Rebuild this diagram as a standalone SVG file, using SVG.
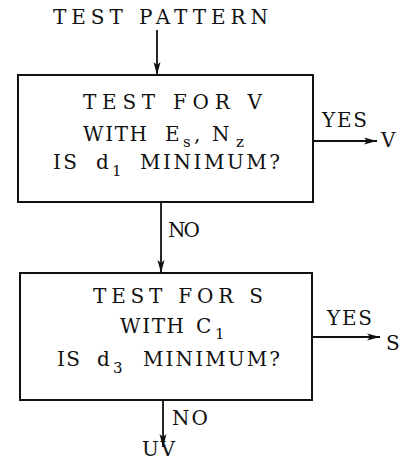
<svg xmlns="http://www.w3.org/2000/svg" width="405" height="460" viewBox="0 0 405 460">
<style>
text{font-family:"DejaVu Serif","Liberation Serif",serif;font-size:20px;fill:#111}
.sub{font-size:15px}
.box{fill:#fff;stroke:#111;stroke-width:2}
.ln{stroke:#111;stroke-width:1.8;fill:none}
</style>
<defs>
<marker id="ah" markerWidth="14" markerHeight="8" refX="13" refY="4" orient="auto" markerUnits="userSpaceOnUse">
<path d="M0,0.5 L13,4 L0,7.5 L3,4 Z" fill="#111"/>
</marker>
</defs>
<rect width="405" height="460" fill="#fff"/>
<g id="input">
<text x="53" y="24" textLength="215" lengthAdjust="spacing">TEST PATTERN</text>
</g>
<g id="box1">
<rect class="box" x="18" y="75" width="295" height="127"/>
<text x="83" y="109" textLength="179" lengthAdjust="spacing">TEST FOR V</text>
<text x="83" y="141" textLength="64" lengthAdjust="spacing">WITH</text>
<text x="165" y="141">E</text>
<text class="sub" x="183" y="147">s</text>
<text x="194" y="141">,</text>
<text x="212" y="141">N</text>
<text class="sub" x="236" y="147">z</text>
<text x="53" y="169" textLength="24" lengthAdjust="spacing">IS</text>
<text x="96" y="169">d</text>
<text class="sub" x="112" y="176">1</text>
<text x="140" y="169" textLength="140" lengthAdjust="spacing">MINIMUM?</text>
</g>
<g id="box2">
<rect class="box" x="20" y="273" width="292" height="127"/>
<text x="93" y="303" textLength="170" lengthAdjust="spacing">TEST FOR S</text>
<text x="120" y="333" textLength="64" lengthAdjust="spacing">WITH</text>
<text x="196" y="333">C</text>
<text class="sub" x="215" y="339">1</text>
<text x="57" y="366" textLength="23" lengthAdjust="spacing">IS</text>
<text x="97" y="366">d</text>
<text class="sub" x="113" y="373">3</text>
<text x="143" y="366" textLength="137" lengthAdjust="spacing">MINIMUM?</text>
</g>
<g id="outV">
<text x="381" y="147">V</text>
</g>
<g id="outS">
<text x="386" y="350">S</text>
</g>
<g id="outUV">
<text x="142" y="456" textLength="33" lengthAdjust="spacing">UV</text>
</g>
<g id="connectors">
<line class="ln" x1="157" y1="30" x2="157" y2="75" marker-end="url(#ah)"/>
<line class="ln" x1="313" y1="141" x2="377" y2="141" marker-end="url(#ah)"/>
<text x="322" y="127" textLength="45" lengthAdjust="spacing">YES</text>
<line class="ln" x1="161" y1="202" x2="161" y2="273" marker-end="url(#ah)"/>
<text x="168" y="237" textLength="32" lengthAdjust="spacing">NO</text>
<line class="ln" x1="312" y1="337" x2="380" y2="337" marker-end="url(#ah)"/>
<text x="327" y="325" textLength="45" lengthAdjust="spacing">YES</text>
<line class="ln" x1="163" y1="400" x2="163" y2="447" marker-end="url(#ah)"/>
<text x="172" y="425" textLength="36" lengthAdjust="spacing">NO</text>
</g>
</svg>
